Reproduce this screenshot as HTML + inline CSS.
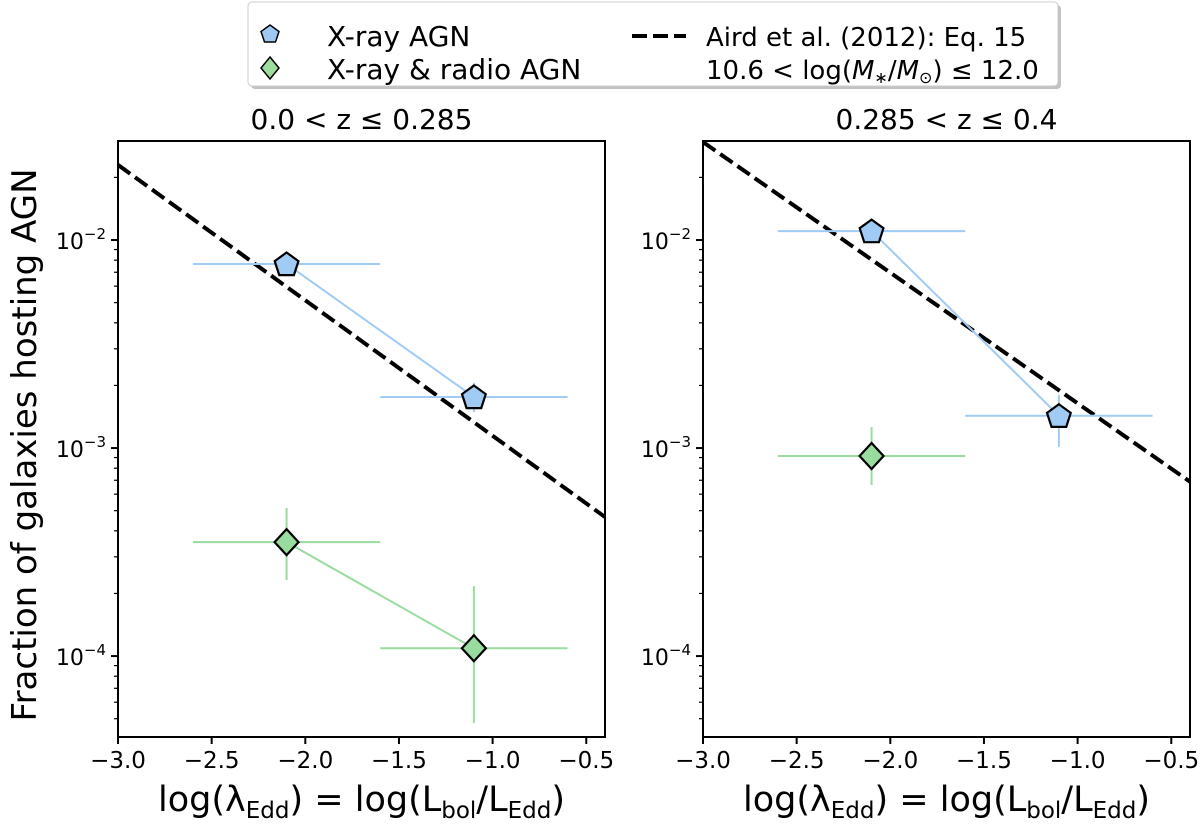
<!DOCTYPE html>
<html><head><meta charset="utf-8"><style>
body{margin:0;background:#fff;}
svg{display:block;font-family:"DejaVu Sans","Liberation Sans",sans-serif;}
</style></head><body>
<svg id="fig" width="1200" height="830" viewBox="0 0 1200 830">
<g id="legend">
<rect x="251" y="5" width="810" height="84" rx="4" fill="#999" opacity="0.6"/>
<rect x="248" y="2" width="810" height="84" rx="4" fill="#fff" stroke="#ccc"/>
<polygon points="270,25 279,31.5 275.5,42 264.5,42 261,31.5" fill="#9fc9f2" stroke="#000" stroke-width="1.5"/>
<text x="327" y="46" font-size="28">X-ray AGN</text>
<polygon points="270,57 279,68 270,79 261,68" fill="#9fdc9f" stroke="#000" stroke-width="1.5"/>
<text x="327" y="79" font-size="28">X-ray &amp; radio AGN</text>
<line x1="632" y1="36" x2="686" y2="36" stroke="#000" stroke-width="4" stroke-dasharray="15,6"/>
<text x="706" y="46" font-size="26">Aird et al. (2012): Eq. 15</text>
<text x="706" y="79" font-size="26">10.6 &lt; log(<tspan font-style="italic">M</tspan><tspan font-size="16" dy="4">∗</tspan><tspan dy="-4">/</tspan><tspan font-style="italic">M</tspan><tspan font-size="16" dy="4">⊙</tspan><tspan dy="-4">) ≤ 12.0</tspan></text>
</g>
<text transform="translate(36,445) rotate(-90)" text-anchor="middle" font-size="34">Fraction of galaxies hosting AGN</text>
</svg>
<script>
// Data
const xTicks = [-3.0, -2.5, -2.0, -1.5, -1.0, -0.5];
const xTickLabels = ["−3.0", "−2.5", "−2.0", "−1.5", "−1.0", "−0.5"];
const yMajor = [-4, -3, -2];
const yMajorLabels = ["−4", "−3", "−2"];
const panelTitles = ["0.0 < z  ≤ 0.285", "0.285 < z  ≤ 0.4"];
const xrayX = [[-2.1, -1.1], [-2.1, -1.1]];
const xrayY = [[0.00767, 0.00176], [0.01104, 0.00143]];
const xrayLo = [[0.0072, 0.00149], [0.0104, 0.00101]];
const xrayHi = [[0.0082, 0.00206], [0.0117, 0.00180]];
const radioX = [[-2.1, -1.1], [-2.1]];
const radioY = [[0.000353, 0.000109], [0.000916]];
const radioLo = [[0.000232, 0.0000477], [0.000664]];
const radioHi = [[0.000515, 0.000217], [0.00126]];
const xErr = 0.5;
const airdIntercept = [-1.639, -1.529];
const airdSlope = [-0.651, -0.628];

const NS = "http://www.w3.org/2000/svg";
const svg = document.getElementById('fig');
function mk(tag, attrs, parent){const e=document.createElementNS(NS,tag);for(const k in attrs)e.setAttribute(k,attrs[k]);(parent||svg).appendChild(e);return e;}
const panels=[{x0:118,x1:605},{x0:703,x1:1190}];
const pTop=141,pBot=737,xmin=-3.0,xmax=-0.4,lmin=-4.389,lmax=-1.524;
panels.forEach((p,i)=>{
  const g=mk('g',{});
  
  
  const sx=v=>p.x0+(v-xmin)/(xmax-xmin)*(p.x1-p.x0);
  const sy=v=>pTop+(lmax-Math.log10(v))/(lmax-lmin)*(pBot-pTop);
  const syl=l=>pTop+(lmax-l)/(lmax-lmin)*(pBot-pTop);
  const cp='clip'+i;
  const cl=mk('clipPath',{id:cp},g);mk('rect',{x:p.x0,y:pTop,width:p.x1-p.x0,height:pBot-pTop},cl);
  const al=mk('line',{x1:sx(xmin),y1:syl(airdIntercept[i]),x2:sx(xmax),y2:syl(airdIntercept[i]+airdSlope[i]*(xmax-xmin)),stroke:'#000','stroke-width':4,'stroke-dasharray':'15,6','clip-path':`url(#${cp})`},g);
  
  
  function series(X,Y,Lo,Hi,col,fill,shape,name){
    const pts=X.map((x,j)=>sx(x)+','+sy(Y[j])).join(' ');
    if(X.length>1){const pl=mk('polyline',{points:pts,fill:'none',stroke:col,'stroke-width':2},g);
      
      }
    X.forEach((x,j)=>{
      const eb=mk('path',{d:`M${sx(x-xErr)},${sy(Y[j])}H${sx(x+xErr)}M${sx(x)},${sy(Lo[j])}V${sy(Hi[j])}`,stroke:col,'stroke-width':2,fill:'none','clip-path':`url(#${cp})`},g);
      
      
    });
    X.forEach((x,j)=>{
      const cx=sx(x),cy=sy(Y[j]);let m;
      if(shape==='pent'){const r=12.5;const a=[];for(let k=0;k<5;k++){const t=-Math.PI/2+k*2*Math.PI/5;a.push((cx+r*Math.cos(t))+','+(cy+r*Math.sin(t)+1));}
        m=mk('polygon',{points:a.join(' '),fill:fill,stroke:'#000','stroke-width':2.2},g);}
      else m=mk('polygon',{points:`${cx},${cy-13} ${cx+12},${cy} ${cx},${cy+13} ${cx-12},${cy}`,fill:fill,stroke:'#000','stroke-width':2.2},g);
      
      
    });
  }
  series(radioX[i],radioY[i],radioLo[i],radioHi[i],'#98dc9f','#98dc9f','diam','radio-agn');
  series(xrayX[i],xrayY[i],xrayLo[i],xrayHi[i],'#9fcbf5','#9fcbf5','pent','xray-agn');
  const fr=mk('rect',{x:p.x0,y:pTop,width:p.x1-p.x0,height:pBot-pTop,fill:'none',stroke:'#000','stroke-width':2},g);
  
  
  xTicks.forEach((t,j)=>{const x=sx(t);mk('line',{x1:x,y1:pBot,x2:x,y2:pBot+7,stroke:'#000','stroke-width':2},g);
    const tx=mk('text',{x:x,y:pBot+31,'text-anchor':'middle','font-size':23},g);tx.textContent=xTickLabels[j];
    
    });
  yMajor.forEach((l,j)=>{const y=syl(l);mk('line',{x1:p.x0-7,y1:y,x2:p.x0,y2:y,stroke:'#000','stroke-width':2},g);
    const tx=mk('text',{x:p.x0-12,y:y+9,'text-anchor':'end','font-size':22},g);
    tx.innerHTML='10<tspan font-size="15" dy="-10">'+yMajorLabels[j]+'</tspan>';
    
    });
  for(let d=-5;d<=-2;d++)for(let k=2;k<=9;k++){const l=d+Math.log10(k);if(l>lmin&&l<lmax){const y=syl(l);mk('line',{x1:p.x0-4,y1:y,x2:p.x0,y2:y,stroke:'#000','stroke-width':1.2},g);}}
  const ti=mk('text',{x:(p.x0+p.x1)/2,y:pTop-12,'text-anchor':'middle','font-size':28},g);ti.textContent=panelTitles[i];
  
  
  const xl=mk('text',{x:(p.x0+p.x1)/2,y:pBot+74,'text-anchor':'middle','font-size':35},g);
  xl.innerHTML='log(λ<tspan font-size="23" dy="7">Edd</tspan><tspan dy="-7">) = log(L</tspan><tspan font-size="23" dy="7">bol</tspan><tspan dy="-7">/L</tspan><tspan font-size="23" dy="7">Edd</tspan><tspan dy="-7">)</tspan>';
  
  
});
</script>
</body></html>
